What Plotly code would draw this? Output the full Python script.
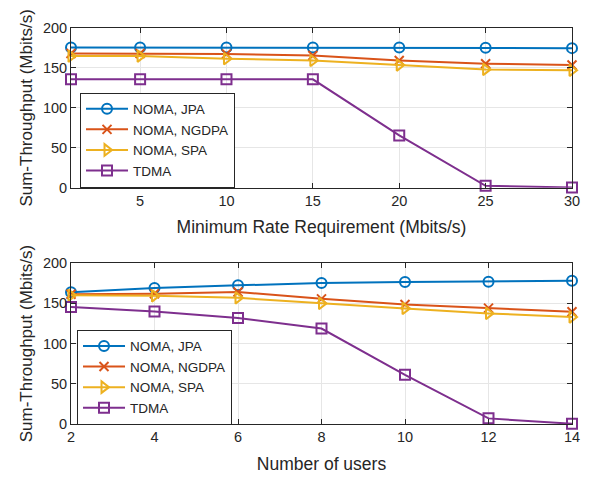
import plotly.graph_objects as go
from plotly.subplots import make_subplots

# Top panel: minimum rate requirement
rate_x = [1, 5, 10, 15, 20, 25, 30]
rate_jpa = [175.5, 175.5, 175.5, 175.5, 175.5, 175.3, 174.8]
rate_ngdpa = [168, 168, 167.5, 165.6, 159.4, 155.3, 153.6]
rate_spa = [164.8, 164.8, 161.5, 159.4, 153.6, 148.2, 147]
rate_tdma = [135.8, 135.8, 135.8, 135.8, 65.5, 2.5, 0.3]

# Bottom panel: number of users
users_x = [2, 4, 6, 8, 10, 12, 14]
users_jpa = [163.9, 169.2, 172.5, 175.4, 176.6, 177, 178.3]
users_ngdpa = [161.5, 162, 164.3, 155.7, 148.7, 144.2, 139.7]
users_spa = [160.2, 159.4, 156.9, 150, 143.8, 137.6, 133]
users_tdma = [145.4, 140, 131.8, 118.7, 61.2, 7, 0.3]

names = ["NOMA, JPA", "NOMA, NGDPA", "NOMA, SPA", "TDMA"]
colors = ["#0072BD", "#D95319", "#EDB120", "#7E2F8E"]
symbols = ["circle-open", "x-thin-open", "triangle-right-open", "square-open"]

fig = make_subplots(rows=2, cols=1, vertical_spacing=0.19)

top_series = [rate_jpa, rate_ngdpa, rate_spa, rate_tdma]
bot_series = [users_jpa, users_ngdpa, users_spa, users_tdma]

for i in range(4):
    fig.add_trace(go.Scatter(
        x=rate_x, y=top_series[i], name=names[i], mode="lines+markers",
        line=dict(color=colors[i], width=2),
        marker=dict(symbol=symbols[i], size=10 if i != 1 else 9,
                    color=colors[i], line=dict(width=2, color=colors[i])),
        cliponaxis=False, legend="legend"), row=1, col=1)
for i in range(4):
    fig.add_trace(go.Scatter(
        x=users_x, y=bot_series[i], name=names[i], mode="lines+markers",
        line=dict(color=colors[i], width=2),
        marker=dict(symbol=symbols[i], size=10 if i != 1 else 9,
                    color=colors[i], line=dict(width=2, color=colors[i])),
        cliponaxis=False, legend="legend2"), row=2, col=1)

axis_common = dict(showline=True, linecolor="#262626", linewidth=1, mirror="ticks",
                   ticks="inside", ticklen=5, tickcolor="#262626",
                   showgrid=True, gridcolor="#E6E6E6", gridwidth=1, zeroline=False,
                   tickfont=dict(size=14.5, color="#262626"))

fig.update_xaxes(**axis_common)
fig.update_yaxes(**axis_common)

fig.update_xaxes(range=[1, 30], tickvals=[5, 10, 15, 20, 25, 30],
                 title=dict(text="Minimum Rate Requirement (Mbits/s)", font=dict(size=17.5, color="#262626"), standoff=12),
                 row=1, col=1)
fig.update_xaxes(range=[2, 14], tickvals=[2, 4, 6, 8, 10, 12, 14],
                 title=dict(text="Number of users", font=dict(size=17.5, color="#262626"), standoff=13),
                 row=2, col=1)
fig.update_yaxes(range=[0, 200], tickvals=[0, 50, 100, 150, 200],
                 title=dict(text="Sum-Throughput (Mbits/s)", font=dict(size=17, color="#262626"), standoff=5))

fig.update_layout(
    width=611, height=477,
    margin=dict(l=63, r=47, t=17, b=61),
    paper_bgcolor="white", plot_bgcolor="white",
    font=dict(family="Liberation Sans, Arial, sans-serif", color="#262626"),
    xaxis=dict(domain=[0, 1]), yaxis=dict(domain=[0.5965, 1]),
    xaxis2=dict(domain=[0, 1]), yaxis2=dict(domain=[0, 0.406]),
    legend=dict(x=0.018, y=0.837, xanchor="left", yanchor="top",
                bordercolor="#262626", borderwidth=1, bgcolor="white",
                font=dict(size=13.5), tracegroupgap=0, itemwidth=42),
    legend2=dict(x=0.012, y=0.238, xanchor="left", yanchor="top",
                 bordercolor="#262626", borderwidth=1, bgcolor="white",
                 font=dict(size=13.5), tracegroupgap=0, itemwidth=42),
)

fig.write_html("out.html")
